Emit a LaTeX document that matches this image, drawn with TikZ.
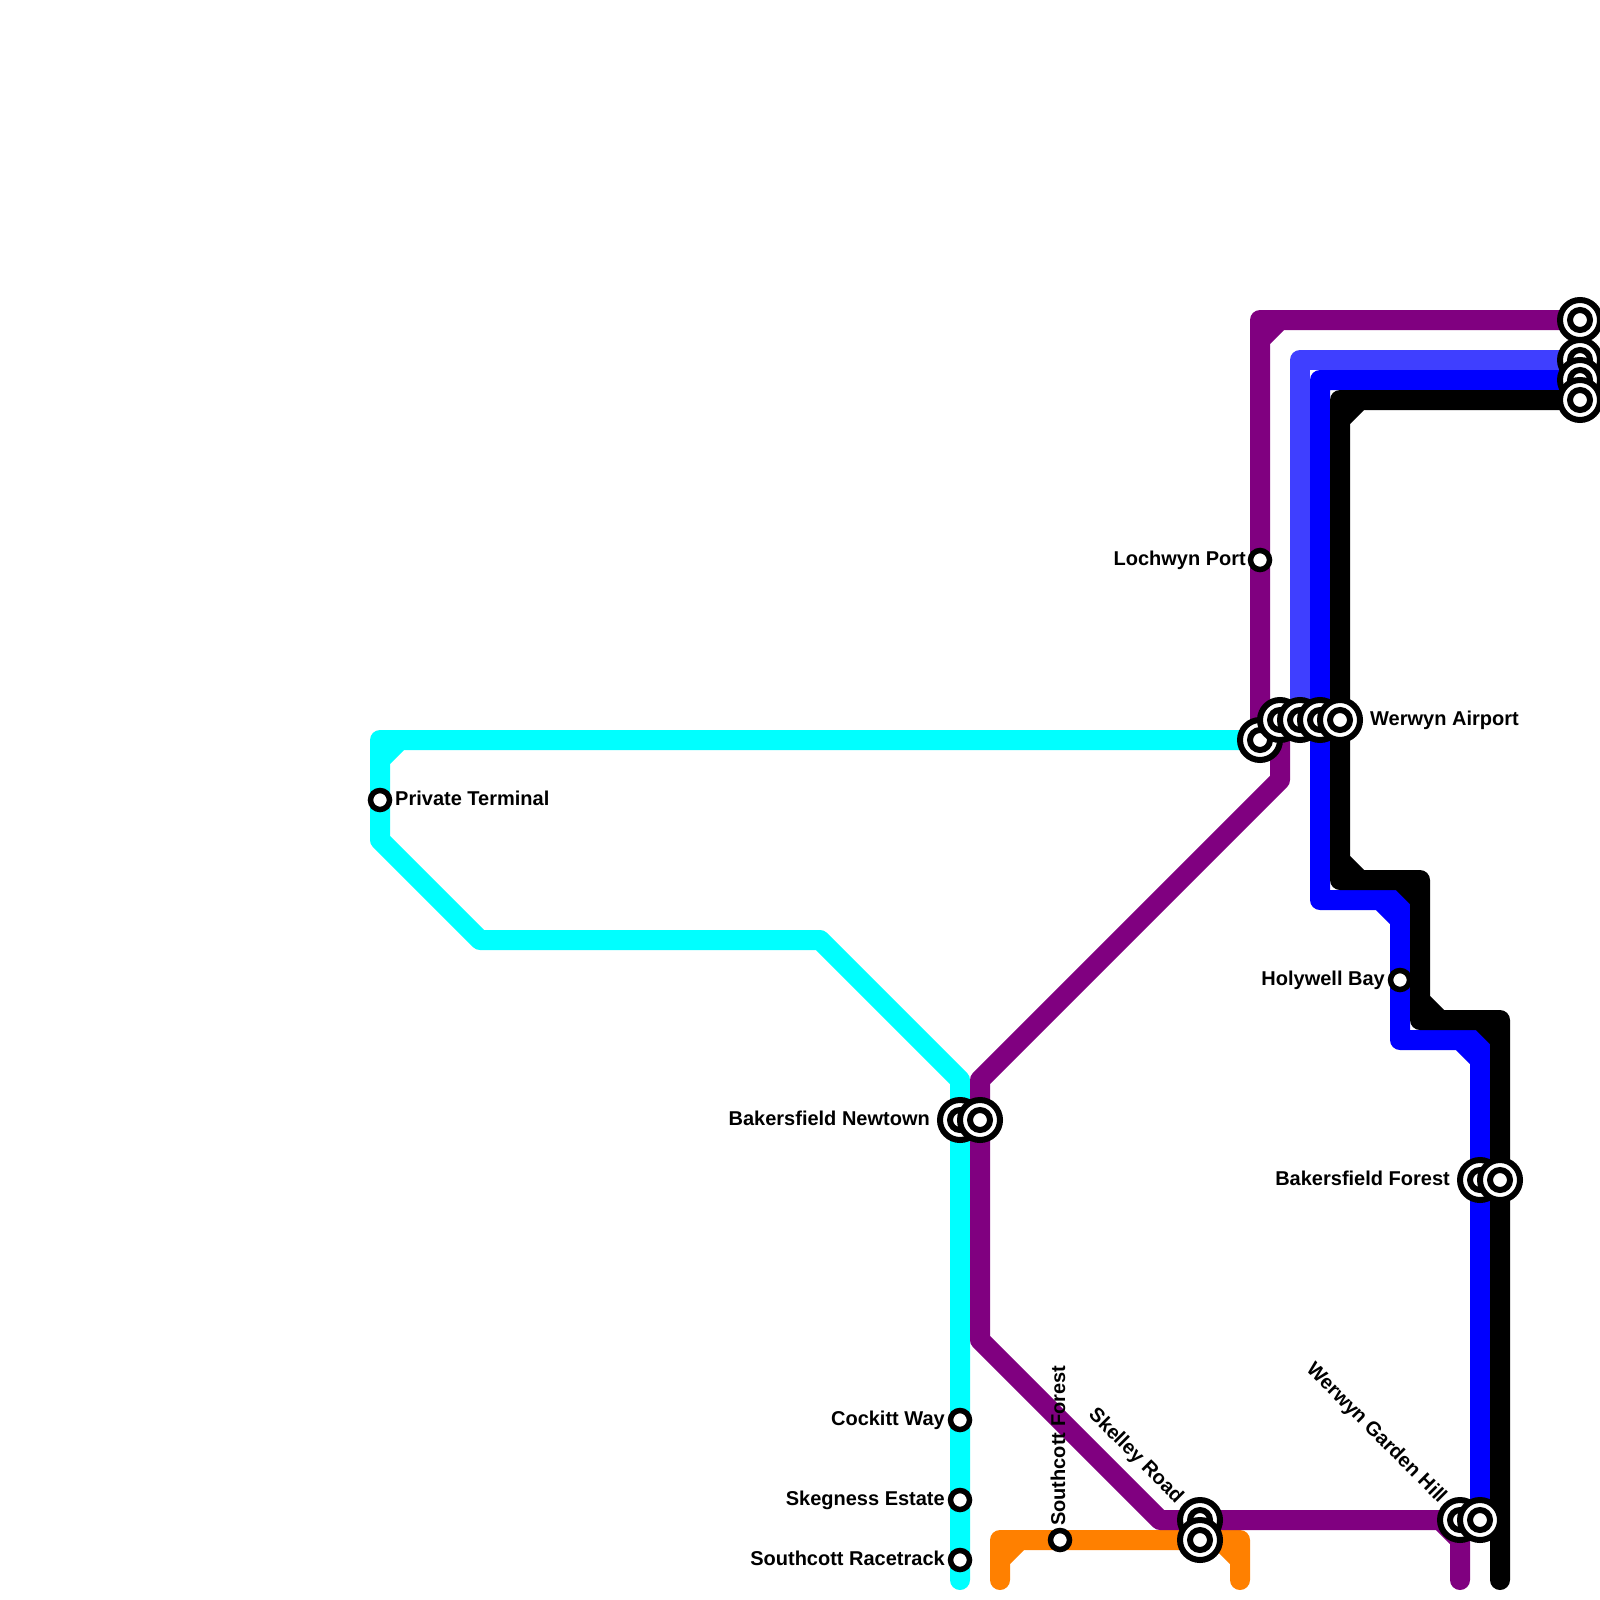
\documentclass[tikz,border=0pt]{standalone}
\usepackage{fontspec}
\setmainfont{Liberation Sans}[Ligatures=NoCommon]
\definecolor{lnpurple}{HTML}{800080}
\definecolor{lncyan}{HTML}{00FFFF}
\definecolor{lnblue}{HTML}{0000FF}
\definecolor{lnlight}{HTML}{3F3FFF}
\definecolor{lnorange}{HTML}{FF8000}
\tikzset{
  route/.style={line width=20pt,line join=round,line cap=round},
  bigouter/.style={circle,draw=black,fill=white,line width=6pt,minimum size=40pt,inner sep=0pt},
  biginner/.style={circle,draw=black,fill=white,line width=6pt,minimum size=20pt,inner sep=0pt},
  smallstn/.style={circle,draw=black,fill=white,line width=5.5pt,minimum size=19pt,inner sep=0pt},
  lbl/.style={inner sep=0pt,font=\fontsize{20}{24}\selectfont\bfseries}
}
\newcommand{\bigstn}[1]{\node[bigouter] (#1o) at (#1) {};\node[biginner] (#1i) at (#1) {};}
\begin{document}
\begin{tikzpicture}[x=1pt,y=-1pt]
\useasboundingbox (0,0) rectangle (1600,1600);
\clip (0,0) rectangle (1600,1600);
% station positions
\coordinate (tp) at (1580,320);
\coordinate (tl) at (1580,360);
\coordinate (tb) at (1580,380);
\coordinate (tk) at (1580,400);
\coordinate (wc) at (1260,740);
\coordinate (wp) at (1280,720);
\coordinate (wl) at (1300,720);
\coordinate (wb) at (1320,720);
\coordinate (wk) at (1340,720);
\coordinate (nc) at (960,1120);
\coordinate (np) at (980,1120);
\coordinate (fb) at (1480,1180);
\coordinate (fk) at (1500,1180);
\coordinate (sp) at (1200,1520);
\coordinate (so) at (1200,1540);
\coordinate (gp) at (1460,1520);
\coordinate (gb) at (1480,1520);
\coordinate (pt) at (380,800);
\coordinate (lp) at (1260,560);
\coordinate (hb) at (1400,980);
\coordinate (cw) at (960,1420);
\coordinate (se) at (960,1500);
\coordinate (sr) at (960,1560);
\coordinate (sf) at (1060,1540);
% lines
\draw[route,lncyan] (wc) -- (380,740) -- (380,840) -- (480,940) -- (820,940) -- (960,1080) -- (960,1580)
  (380,760) -- (400,740);
\draw[route,lnorange] (1000,1580) -- (1000,1540) -- (1240,1540) -- (1240,1580)
  (1000,1560) -- (1020,1540) (1220,1540) -- (1240,1560);
\draw[route,lnpurple] (tp) -- (1260,320) -- (1260,720) -- (wp) -- (1280,780) -- (980,1080) -- (980,1340) -- (1160,1520) -- (1460,1520) -- (1460,1580)
  (1260,340) -- (1280,320) (1440,1520) -- (1460,1540);
\draw[route,lnlight] (tl) -- (1300,360) -- (wl);
\draw[route,lnblue] (tb) -- (1320,380) -- (1320,900) -- (1400,900) -- (1400,1040) -- (1480,1040) -- (gb)
  (1380,900) -- (1400,920) (1460,1040) -- (1480,1060);
\draw[route,black] (tk) -- (1340,400) -- (1340,880) -- (1420,880) -- (1420,1020) -- (1500,1020) -- (1500,1580)
  (1340,420) -- (1360,400) (1340,860) -- (1360,880) (1400,880) -- (1420,900) (1420,1000) -- (1440,1020) (1480,1020) -- (1500,1040);
% stations
\node[smallstn] (pts) at (pt) {};
\node[smallstn] (lps) at (lp) {};
\node[smallstn] (hbs) at (hb) {};
\node[smallstn] (cws) at (cw) {};
\node[smallstn] (ses) at (se) {};
\node[smallstn] (srs) at (sr) {};
\node[smallstn] (sfs) at (sf) {};
\bigstn{wc}\bigstn{wp}\bigstn{wl}\bigstn{wb}\bigstn{wk}
\bigstn{tp}\bigstn{tl}\bigstn{tb}\bigstn{tk}
\bigstn{nc}\bigstn{np}
\bigstn{fb}\bigstn{fk}
\bigstn{sp}\bigstn{so}
\bigstn{gp}\bigstn{gb}
% labels
\node[lbl,anchor=base west] (l1) at (395,805) {Private Terminal};
\node[lbl,anchor=base east] (l2) at (1246,565) {Lochwyn Port};
\node[lbl,anchor=base west] (l3) at (1370,725) {Werwyn Airport};
\node[lbl,anchor=base east] (l4) at (1385,985) {Holywell Bay};
\node[lbl,anchor=base east] (l5) at (1450,1185) {Bakersfield Forest};
\node[lbl,anchor=base east] (l6) at (930,1125) {Bakersfield Newtown};
\node[lbl,anchor=base east] (l7) at (945,1425) {Cockitt Way};
\node[lbl,anchor=base east] (l8) at (945,1505) {Skegness Estate};
\node[lbl,anchor=base east] (l9) at (945,1565) {Southcott Racetrack};
\node[lbl,anchor=base west,rotate=90] (l10) at (1065,1526) {Southcott Forest};
\node[lbl,anchor=base east,rotate=-45] (l11) at (1176,1504) {Skelley Road};
\node[lbl,anchor=base east,rotate=-45] (l12) at (1439,1504) {Werwyn Garden Hill};
\end{tikzpicture}
\end{document}
